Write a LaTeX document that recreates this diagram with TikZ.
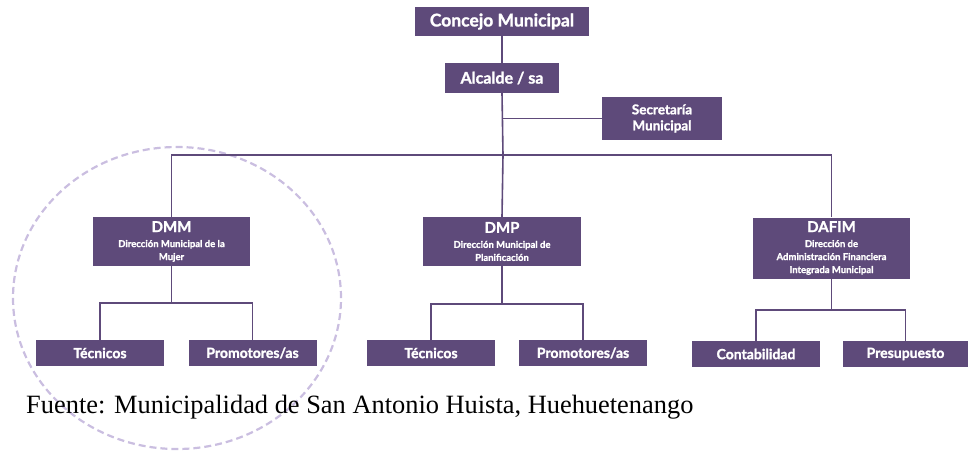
\documentclass[tikz,border=0pt]{standalone}
\usepackage{fontspec}
\setmainfont{Liberation Serif}
\newfontfamily\orgfont{Lato}[BoldFeatures={FakeBold=1.4}]
\usetikzlibrary{positioning}
\definecolor{orgpurple}{RGB}{94,74,122}
\definecolor{ringlilac}{RGB}{202,190,224}
\newcommand{\unitnote}[1]{{\fontsize{9.5}{11.5}\selectfont #1}}
\tikzset{
    unit/.style={
        rectangle, fill=orgpurple, text=white, inner sep=0pt,
        align=center, font=\orgfont\bfseries\fontsize{16}{18}\selectfont
    },
    dept/.style={
        unit, minimum width=157pt, minimum height=49pt,
        font=\orgfont\bfseries\fontsize{15}{13}\selectfont
    },
    staff/.style={
        unit, minimum width=128pt, minimum height=26pt,
        font=\orgfont\bfseries\fontsize{14}{16}\selectfont
    },
    link/.style={draw=orgpurple, line width=1.6pt},
    ring/.style={draw=ringlilac, line width=2.2pt, dash pattern=on 7pt off 4pt}
}
\begin{document}
\begin{tikzpicture}[x=1pt, y=-1pt]
\useasboundingbox (0,0) rectangle (968,451);

% Highlight around the DMM branch
\draw[ring] (177,298) ellipse [x radius=164pt, y radius=151pt];

% Top: council, mayor, secretary
\node[unit, minimum width=174pt, minimum height=29pt,
      font=\orgfont\bfseries\fontsize{17.5}{19}\selectfont] (concejo) at (502,21.5) {Concejo Municipal};
\node[unit, minimum width=114pt, minimum height=30pt] (alcalde) at (502,78) {Alcalde / sa};
\node[unit, minimum width=120pt, minimum height=43pt,
      font=\orgfont\bfseries\fontsize{13.5}{16}\selectfont] (secretaria) at (662,118.5) {Secretaría\\Municipal};
\coordinate (spine) at (503,155);

% Middle: directions
\node[dept] (dmm) at (171.5,241.5) {DMM\\[2pt]\unitnote{Dirección Municipal de la}\\\unitnote{Mujer}};
\node[dept, minimum width=158pt] (dmp) at (502,241.5) {DMP\\[2pt]\unitnote{Dirección Municipal de}\\\unitnote{Planificación}};
\node[dept, minimum height=61pt] (dafim) at (831.5,248) {DAFIM\\[2pt]\unitnote{Dirección de}\\\unitnote{Administración Financiera}\\\unitnote{Integrada Municipal}};

% Bottom: staff
\node[staff] (dmm_tec) at (100,353) {Técnicos};
\node[staff] (dmm_prom) at (252.5,353) {Promotores/as};
\node[staff] (dmp_tec) at (431,353) {Técnicos};
\node[staff] (dmp_prom) at (583,353) {Promotores/as};
\node[staff] (dafim_cont) at (756,354) {Contabilidad};
\node[staff, minimum width=125pt] (dafim_pres) at (905.5,354) {Presupuesto};

% Source
\node[anchor=base west, inner sep=0pt, font=\fontsize{26.4}{30}\selectfont] (fuente) at (26,413)
    {Fuente: Municipalidad de San Antonio Huista, Huehuetenango};

% Connections
\draw[link] (concejo) -- (alcalde);
\draw[link] (alcalde.south) -- (spine);
\draw[link] (secretaria.west) -- (secretaria.west -| spine);
\draw[link] (dmm.north) |- (spine) -| (dafim.north);
\draw[link] (spine) -- (dmp.north);

\draw[link] (dmm.south) -- ++(0,37) -| (dmm_tec.north);
\draw[link] (dmm.south) -- ++(0,37) -| (dmm_prom.north);
\draw[link] (dmp.south) -- ++(0,38) -| (dmp_tec.north);
\draw[link] (dmp.south) -- ++(0,38) -| (dmp_prom.north);
\draw[link] (dafim.south) -- ++(0,31) -| (dafim_cont.north);
\draw[link] (dafim.south) -- ++(0,31) -| (dafim_pres.north);

\end{tikzpicture}
\end{document}
